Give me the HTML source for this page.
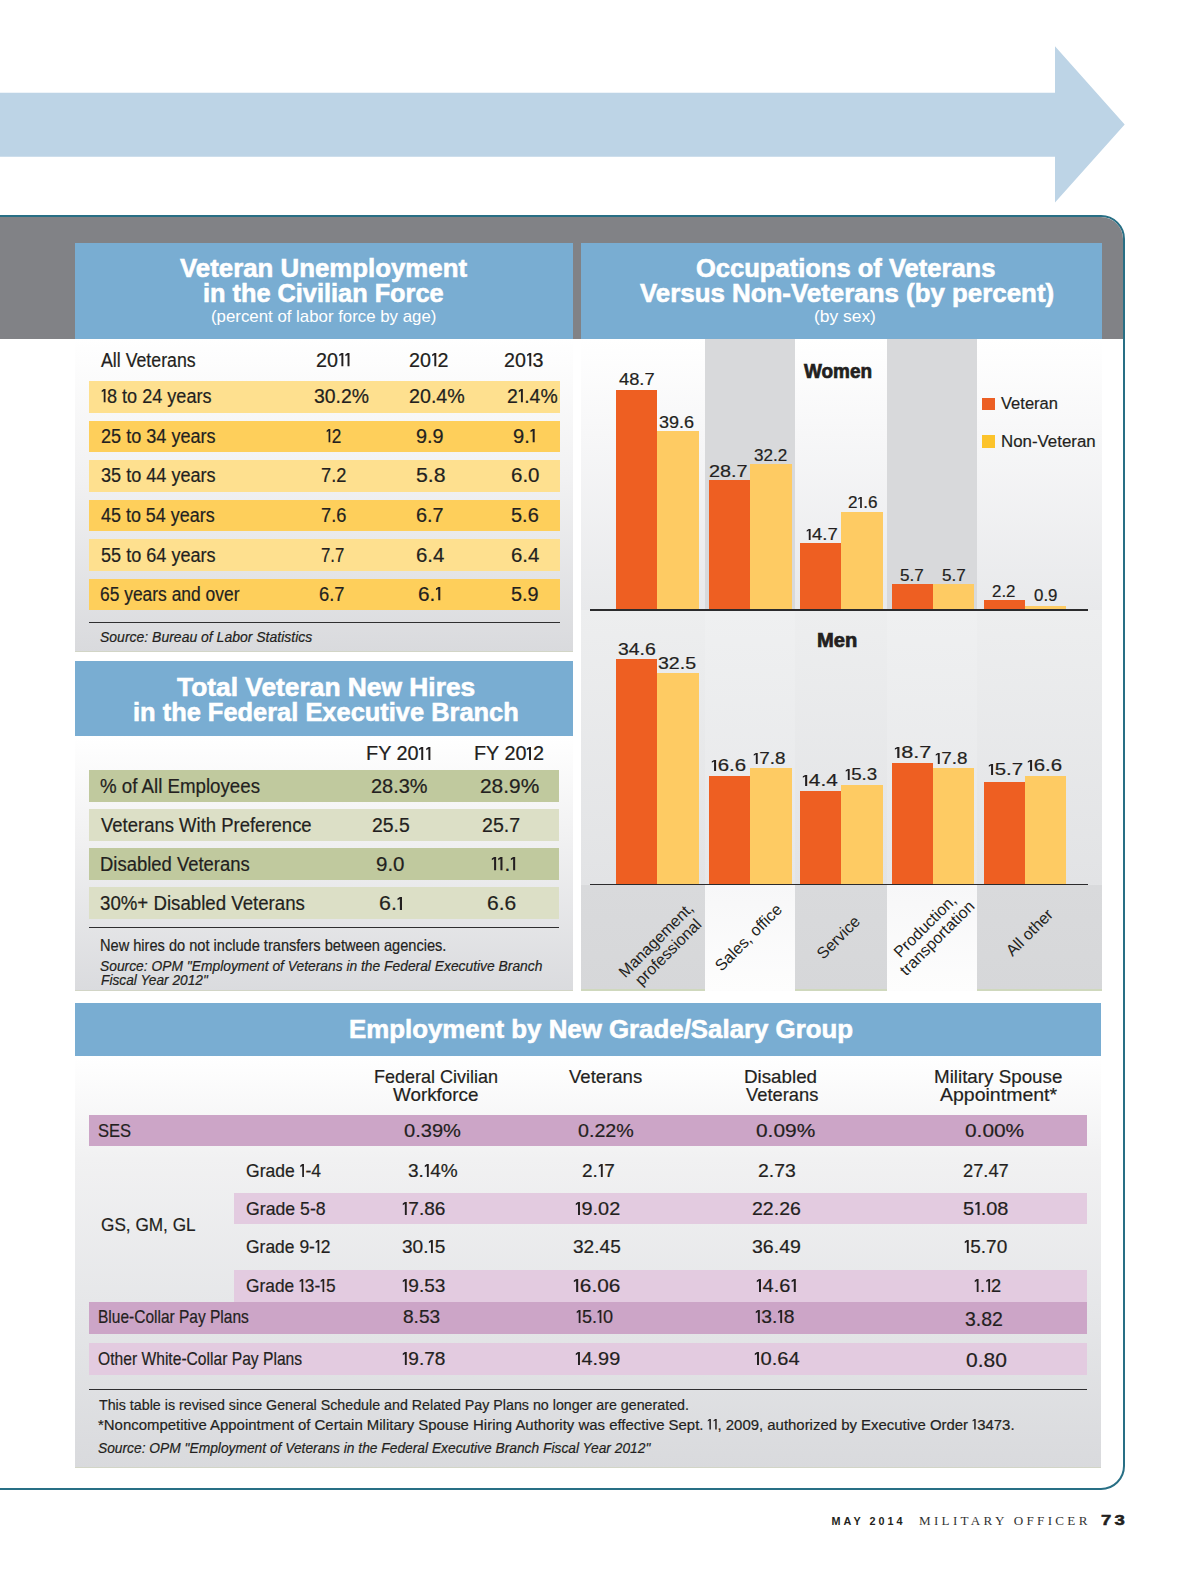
<!DOCTYPE html>
<html><head><meta charset="utf-8"><style>
html,body{margin:0;padding:0;background:#fff;overflow:hidden;}
body{width:1200px;height:1575px;position:relative;overflow:hidden;font-family:"Liberation Sans",sans-serif;}
.abs{position:absolute;}
.r{position:absolute;}
.t{position:absolute;white-space:nowrap;line-height:1;transform-origin:0 0;}
.one{display:inline-block;width:0.33em;height:0.688em;vertical-align:baseline;fill:currentColor;}
.rot{position:absolute;width:200px;height:40px;line-height:17px;font-size:16px;text-align:center;color:#231f20;
 transform:rotate(-45deg);transform-origin:50% 50%;display:flex;flex-direction:column;justify-content:center;}
</style></head><body>
<svg class="abs" style="left:0;top:0" width="1200" height="215" viewBox="0 0 1200 215"><polygon points="0,92.8 1055,92.8 1055,46.2 1124.7,124.4 1055,202.6 1055,156.7 0,156.7" fill="#bdd4e6"/></svg>
<div class="r" style="left:-40px;top:215px;width:1161px;height:1270.5px;border:2px solid #286f85;border-radius:0 24px 24px 0;overflow:hidden;background:#fff"><div class="r" style="left:0;top:0;width:1200px;height:121.7px;background:#818286"></div></div>
<div class="r" style="left:75.00px;top:243.00px;width:498.00px;height:95.70px;background:#79add2;"></div>
<div class="r" style="left:75.00px;top:338.70px;width:498.00px;height:313.30px;background:linear-gradient(#ffffff, #f1f1f2 45%, #d9dadd);"></div>
<div class="r" style="left:581.00px;top:243.00px;width:521.00px;height:95.70px;background:#79add2;"></div>
<div class="r" style="left:581.00px;top:338.70px;width:521.00px;height:652.60px;background:linear-gradient(#ffffff, #eeeff0 40%, #e6e7e9 70%, #dfe0e2);"></div>
<div class="r" style="left:75.00px;top:661.00px;width:498.00px;height:75.00px;background:#79add2;"></div>
<div class="r" style="left:75.00px;top:736.00px;width:498.00px;height:255.30px;background:linear-gradient(#ffffff, #f1f1f2 40%, #dadbde);"></div>
<div class="r" style="left:75.00px;top:1002.50px;width:1026.00px;height:53.30px;background:#79add2;"></div>
<div class="r" style="left:75.00px;top:1055.80px;width:1026.00px;height:411.50px;background:linear-gradient(#ffffff, #f1f1f2 25%, #e6e7e9 60%, #d9dadd);"></div>
<div class="r" style="left:75.00px;top:651.20px;width:498.00px;height:1.10px;background:#d2d5c6;"></div>
<div class="r" style="left:75.00px;top:990.20px;width:498.00px;height:1.10px;background:#d2d5c6;"></div>
<div class="r" style="left:75.00px;top:1466.60px;width:1026.00px;height:1.10px;background:#d2d5c6;"></div>
<div class="r" style="left:88.50px;top:381.30px;width:471.00px;height:31.70px;background:#fee08f;"></div>
<div class="r" style="left:88.50px;top:420.80px;width:471.00px;height:31.70px;background:#fecf5b;"></div>
<div class="r" style="left:88.50px;top:460.30px;width:471.00px;height:31.70px;background:#fee08f;"></div>
<div class="r" style="left:88.50px;top:499.80px;width:471.00px;height:31.70px;background:#fecf5b;"></div>
<div class="r" style="left:88.50px;top:539.30px;width:471.00px;height:31.70px;background:#fee08f;"></div>
<div class="r" style="left:88.50px;top:578.80px;width:471.00px;height:31.70px;background:#fecf5b;"></div>
<div class="r" style="left:88.50px;top:621.70px;width:471.00px;height:1.80px;background:#2e2e30;"></div>
<div class="r" style="left:88.70px;top:769.90px;width:470.50px;height:32.10px;background:#c0c99e;"></div>
<div class="r" style="left:88.70px;top:809.10px;width:470.50px;height:32.10px;background:#dcdfc6;"></div>
<div class="r" style="left:88.70px;top:848.00px;width:470.50px;height:32.10px;background:#c0c99e;"></div>
<div class="r" style="left:88.70px;top:887.40px;width:470.50px;height:32.10px;background:#dcdfc6;"></div>
<div class="r" style="left:88.70px;top:926.50px;width:470.50px;height:1.80px;background:#2e2e30;"></div>
<div class="r" style="left:89.00px;top:1114.60px;width:998.00px;height:31.90px;background:#cca5c7;"></div>
<div class="r" style="left:234.10px;top:1192.60px;width:852.90px;height:31.80px;background:#e3cbe0;"></div>
<div class="r" style="left:234.10px;top:1270.00px;width:852.90px;height:31.90px;background:#e3cbe0;"></div>
<div class="r" style="left:89.00px;top:1301.90px;width:998.00px;height:31.70px;background:#cca5c7;"></div>
<div class="r" style="left:89.00px;top:1343.20px;width:998.00px;height:31.80px;background:#e3cbe0;"></div>
<div class="r" style="left:89.00px;top:1388.70px;width:998.00px;height:1.80px;background:#2e2e30;"></div>
<div class="r" style="left:705.20px;top:338.70px;width:90.10px;height:271.30px;background:#d8d9db;"></div>
<div class="r" style="left:887.30px;top:338.70px;width:89.60px;height:271.30px;background:#d8d9db;"></div>
<div class="r" style="left:581.00px;top:338.70px;width:124.20px;height:271.30px;background:linear-gradient(#ffffff, #f7f7f8 35%, #e8e9eb);"></div>
<div class="r" style="left:795.30px;top:338.70px;width:92.00px;height:271.30px;background:linear-gradient(#ffffff, #f7f7f8 35%, #e8e9eb);"></div>
<div class="r" style="left:976.90px;top:338.70px;width:125.10px;height:271.30px;background:linear-gradient(#ffffff, #f7f7f8 35%, #e8e9eb);"></div>
<div class="r" style="left:581.00px;top:610.00px;width:521.00px;height:274.00px;background:linear-gradient(#edeeef, #e2e3e5);"></div>
<div class="r" style="left:705.20px;top:610.00px;width:90.10px;height:274.00px;background:linear-gradient(#eff0f1, #e6e7e9);"></div>
<div class="r" style="left:887.30px;top:610.00px;width:89.60px;height:274.00px;background:linear-gradient(#eff0f1, #e6e7e9);"></div>
<div class="r" style="left:581.00px;top:885.00px;width:124.20px;height:106.30px;background:linear-gradient(#d9dadc, #d6d7d9);"></div>
<div class="r" style="left:581.00px;top:989.30px;width:124.20px;height:2.00px;background:#cfd8bd;"></div>
<div class="r" style="left:795.30px;top:885.00px;width:92.00px;height:106.30px;background:linear-gradient(#d9dadc, #d6d7d9);"></div>
<div class="r" style="left:795.30px;top:989.30px;width:92.00px;height:2.00px;background:#cfd8bd;"></div>
<div class="r" style="left:976.90px;top:885.00px;width:125.10px;height:106.30px;background:linear-gradient(#d9dadc, #d6d7d9);"></div>
<div class="r" style="left:976.90px;top:989.30px;width:125.10px;height:2.00px;background:#cfd8bd;"></div>
<div class="r" style="left:705.20px;top:885.00px;width:90.10px;height:106.30px;background:linear-gradient(#f7f7f8, #fdfdfd);"></div>
<div class="r" style="left:887.30px;top:885.00px;width:89.60px;height:106.30px;background:linear-gradient(#f7f7f8, #fdfdfd);"></div>
<div class="r" style="left:616.20px;top:389.68px;width:41.00px;height:220.12px;background:#ee5f22;"></div>
<div class="r" style="left:657.20px;top:430.81px;width:41.50px;height:178.99px;background:#fecb63;"></div>
<div class="r" style="left:616.20px;top:659.05px;width:41.00px;height:225.25px;background:#ee5f22;"></div>
<div class="r" style="left:657.20px;top:672.72px;width:41.50px;height:211.58px;background:#fecb63;"></div>
<div class="r" style="left:709.40px;top:480.08px;width:41.00px;height:129.72px;background:#ee5f22;"></div>
<div class="r" style="left:750.40px;top:464.26px;width:41.50px;height:145.54px;background:#fecb63;"></div>
<div class="r" style="left:709.40px;top:776.23px;width:41.00px;height:108.07px;background:#ee5f22;"></div>
<div class="r" style="left:750.40px;top:768.42px;width:41.50px;height:115.88px;background:#fecb63;"></div>
<div class="r" style="left:800.20px;top:543.36px;width:41.00px;height:66.44px;background:#ee5f22;"></div>
<div class="r" style="left:841.20px;top:512.17px;width:41.50px;height:97.63px;background:#fecb63;"></div>
<div class="r" style="left:800.20px;top:790.56px;width:41.00px;height:93.74px;background:#ee5f22;"></div>
<div class="r" style="left:841.20px;top:784.70px;width:41.50px;height:99.60px;background:#fecb63;"></div>
<div class="r" style="left:891.80px;top:584.04px;width:41.00px;height:25.76px;background:#ee5f22;"></div>
<div class="r" style="left:932.80px;top:584.04px;width:41.50px;height:25.76px;background:#fecb63;"></div>
<div class="r" style="left:891.80px;top:762.56px;width:41.00px;height:121.74px;background:#ee5f22;"></div>
<div class="r" style="left:932.80px;top:768.42px;width:41.50px;height:115.88px;background:#fecb63;"></div>
<div class="r" style="left:983.70px;top:599.86px;width:41.00px;height:9.94px;background:#ee5f22;"></div>
<div class="r" style="left:1024.70px;top:605.73px;width:41.50px;height:4.07px;background:#fecb63;"></div>
<div class="r" style="left:983.70px;top:782.09px;width:41.00px;height:102.21px;background:#ee5f22;"></div>
<div class="r" style="left:1024.70px;top:776.23px;width:41.50px;height:108.07px;background:#fecb63;"></div>
<div class="r" style="left:589.70px;top:609.00px;width:498.30px;height:1.60px;background:#2b2b2d;"></div>
<div class="r" style="left:589.70px;top:883.60px;width:498.30px;height:1.60px;background:#2b2b2d;"></div>
<div class="r" style="left:982.00px;top:398.00px;width:12.50px;height:12.00px;background:#ec5f24;"></div>
<div class="r" style="left:982.00px;top:435.00px;width:12.50px;height:12.50px;background:#fcc32b;"></div>
<div class="rot" style="left:562.0px;top:926.0px;">Management,<br>professional</div>
<div class="rot" style="left:648.0px;top:917.3px;">Sales, office</div>
<div class="rot" style="left:738.0px;top:917.0px;">Service</div>
<div class="rot" style="left:830.8px;top:912.0px;">Production,<br>transportation</div>
<div class="rot" style="left:928.5px;top:912.0px;">All other</div>
<span class="t" id="t0" style="left:179.90px;top:255.09px;font-size:26.00px;color:#ffffff;font-weight:700;transform:scaleX(0.9934);-webkit-text-stroke:0.60px #ffffff;">Veteran Unemployment</span>
<span class="t" id="t1" style="left:202.97px;top:279.69px;font-size:26.00px;color:#ffffff;font-weight:700;transform:scaleX(0.9738);-webkit-text-stroke:0.60px #ffffff;">in the Civilian Force</span>
<span class="t" id="t2" style="left:210.76px;top:308.21px;font-size:17.00px;color:#ffffff;transform:scaleX(0.9897);">(percent of labor force by age)</span>
<span class="t" id="t3" style="left:696.19px;top:255.09px;font-size:26.00px;color:#ffffff;font-weight:700;transform:scaleX(0.9820);-webkit-text-stroke:0.60px #ffffff;">Occupations of Veterans</span>
<span class="t" id="t4" style="left:640.00px;top:279.69px;font-size:26.00px;color:#ffffff;font-weight:700;transform:scaleX(0.9952);-webkit-text-stroke:0.60px #ffffff;">Versus Non-Veterans (by percent)</span>
<span class="t" id="t5" style="left:814.15px;top:308.21px;font-size:17.00px;color:#ffffff;transform:scaleX(1.0239);">(by sex)</span>
<span class="t" id="t6" style="left:100.75px;top:350.57px;font-size:19.40px;color:#231f20;transform:scaleX(0.9151);-webkit-text-stroke:0.20px #231f20;">All Veterans</span>
<span class="t" id="t7" style="left:315.70px;top:350.57px;font-size:19.40px;color:#231f20;transform:scaleX(1.0198);-webkit-text-stroke:0.20px #231f20;">20<svg class="one" viewBox="0 0 33 68.8"><path d="M15,0H25V68.8H15V10L4,17V8Z"/></svg><svg class="one" viewBox="0 0 33 68.8"><path d="M15,0H25V68.8H15V10L4,17V8Z"/></svg></span>
<span class="t" id="t8" style="left:409.41px;top:350.57px;font-size:19.40px;color:#231f20;transform:scaleX(1.0167);-webkit-text-stroke:0.20px #231f20;">20<svg class="one" viewBox="0 0 33 68.8"><path d="M15,0H25V68.8H15V10L4,17V8Z"/></svg>2</span>
<span class="t" id="t9" style="left:504.42px;top:350.57px;font-size:19.40px;color:#231f20;transform:scaleX(1.0151);-webkit-text-stroke:0.20px #231f20;">20<svg class="one" viewBox="0 0 33 68.8"><path d="M15,0H25V68.8H15V10L4,17V8Z"/></svg>3</span>
<span class="t" id="t10" style="left:100.74px;top:386.57px;font-size:19.40px;color:#231f20;transform:scaleX(0.9331);-webkit-text-stroke:0.20px #231f20;"><svg class="one" viewBox="0 0 33 68.8"><path d="M15,0H25V68.8H15V10L4,17V8Z"/></svg>8 to 24 years</span>
<span class="t" id="t11" style="left:313.96px;top:386.57px;font-size:19.40px;color:#231f20;transform:scaleX(1.0014);-webkit-text-stroke:0.20px #231f20;">30.2%</span>
<span class="t" id="t12" style="left:408.97px;top:386.57px;font-size:19.40px;color:#231f20;transform:scaleX(1.0143);-webkit-text-stroke:0.20px #231f20;">20.4%</span>
<span class="t" id="t13" style="left:506.96px;top:386.57px;font-size:19.40px;color:#231f20;transform:scaleX(1.0017);-webkit-text-stroke:0.20px #231f20;">2<svg class="one" viewBox="0 0 33 68.8"><path d="M15,0H25V68.8H15V10L4,17V8Z"/></svg>.4%</span>
<span class="t" id="t14" style="left:100.74px;top:426.57px;font-size:19.40px;color:#231f20;transform:scaleX(0.9331);-webkit-text-stroke:0.20px #231f20;">25 to 34 years</span>
<span class="t" id="t15" style="left:325.92px;top:426.57px;font-size:19.40px;color:#231f20;transform:scaleX(0.8869);-webkit-text-stroke:0.20px #231f20;"><svg class="one" viewBox="0 0 33 68.8"><path d="M15,0H25V68.8H15V10L4,17V8Z"/></svg>2</span>
<span class="t" id="t16" style="left:416.38px;top:426.57px;font-size:19.40px;color:#231f20;transform:scaleX(1.0235);-webkit-text-stroke:0.20px #231f20;">9.9</span>
<span class="t" id="t17" style="left:513.26px;top:426.57px;font-size:19.40px;color:#231f20;transform:scaleX(1.0405);-webkit-text-stroke:0.20px #231f20;">9.<svg class="one" viewBox="0 0 33 68.8"><path d="M15,0H25V68.8H15V10L4,17V8Z"/></svg></span>
<span class="t" id="t18" style="left:100.74px;top:466.07px;font-size:19.40px;color:#231f20;transform:scaleX(0.9331);-webkit-text-stroke:0.20px #231f20;">35 to 44 years</span>
<span class="t" id="t19" style="left:320.70px;top:466.07px;font-size:19.40px;color:#231f20;transform:scaleX(0.9397);-webkit-text-stroke:0.20px #231f20;">7.2</span>
<span class="t" id="t20" style="left:415.70px;top:466.07px;font-size:19.40px;color:#231f20;transform:scaleX(1.0972);-webkit-text-stroke:0.20px #231f20;">5.8</span>
<span class="t" id="t21" style="left:510.72px;top:466.07px;font-size:19.40px;color:#231f20;transform:scaleX(1.0580);-webkit-text-stroke:0.20px #231f20;">6.0</span>
<span class="t" id="t22" style="left:100.75px;top:505.57px;font-size:19.40px;color:#231f20;transform:scaleX(0.9248);-webkit-text-stroke:0.20px #231f20;">45 to 54 years</span>
<span class="t" id="t23" style="left:320.70px;top:505.57px;font-size:19.40px;color:#231f20;transform:scaleX(0.9397);-webkit-text-stroke:0.20px #231f20;">7.6</span>
<span class="t" id="t24" style="left:415.92px;top:505.57px;font-size:19.40px;color:#231f20;transform:scaleX(1.0235);-webkit-text-stroke:0.20px #231f20;">6.7</span>
<span class="t" id="t25" style="left:510.94px;top:505.57px;font-size:19.40px;color:#231f20;transform:scaleX(1.0306);-webkit-text-stroke:0.20px #231f20;">5.6</span>
<span class="t" id="t26" style="left:100.74px;top:545.57px;font-size:19.40px;color:#231f20;transform:scaleX(0.9331);-webkit-text-stroke:0.20px #231f20;">55 to 64 years</span>
<span class="t" id="t27" style="left:320.92px;top:545.57px;font-size:19.40px;color:#231f20;transform:scaleX(0.8661);-webkit-text-stroke:0.20px #231f20;">7.7</span>
<span class="t" id="t28" style="left:415.70px;top:545.57px;font-size:19.40px;color:#231f20;transform:scaleX(1.0503);-webkit-text-stroke:0.20px #231f20;">6.4</span>
<span class="t" id="t29" style="left:510.70px;top:545.57px;font-size:19.40px;color:#231f20;transform:scaleX(1.0503);-webkit-text-stroke:0.20px #231f20;">6.4</span>
<span class="t" id="t30" style="left:99.75px;top:584.82px;font-size:19.40px;color:#231f20;transform:scaleX(0.8984);-webkit-text-stroke:0.20px #231f20;">65 years and over</span>
<span class="t" id="t31" style="left:318.96px;top:584.82px;font-size:19.40px;color:#231f20;transform:scaleX(0.9473);-webkit-text-stroke:0.20px #231f20;">6.7</span>
<span class="t" id="t32" style="left:418.30px;top:584.82px;font-size:19.40px;color:#231f20;transform:scaleX(1.0702);-webkit-text-stroke:0.20px #231f20;">6.<svg class="one" viewBox="0 0 33 68.8"><path d="M15,0H25V68.8H15V10L4,17V8Z"/></svg></span>
<span class="t" id="t33" style="left:510.92px;top:584.82px;font-size:19.40px;color:#231f20;transform:scaleX(1.0235);-webkit-text-stroke:0.20px #231f20;">5.9</span>
<span class="t" id="t34" style="left:99.90px;top:629.05px;font-size:15.30px;color:#231f20;font-style:italic;transform:scaleX(0.9143);-webkit-text-stroke:0.20px #231f20;">Source: Bureau of Labor Statistics</span>
<span class="t" id="t35" style="left:177.00px;top:673.99px;font-size:26.00px;color:#ffffff;font-weight:700;transform:scaleX(1.0133);-webkit-text-stroke:0.60px #ffffff;">Total Veteran New Hires</span>
<span class="t" id="t36" style="left:132.58px;top:698.99px;font-size:26.00px;color:#ffffff;font-weight:700;transform:scaleX(0.9780);-webkit-text-stroke:0.60px #ffffff;">in the Federal Executive Branch</span>
<span class="t" id="t37" style="left:365.79px;top:744.17px;font-size:19.40px;color:#231f20;transform:scaleX(1.0247);-webkit-text-stroke:0.20px #231f20;">FY 20<svg class="one" viewBox="0 0 33 68.8"><path d="M15,0H25V68.8H15V10L4,17V8Z"/></svg><svg class="one" viewBox="0 0 33 68.8"><path d="M15,0H25V68.8H15V10L4,17V8Z"/></svg></span>
<span class="t" id="t38" style="left:473.51px;top:744.17px;font-size:19.40px;color:#231f20;transform:scaleX(1.0211);-webkit-text-stroke:0.20px #231f20;">FY 20<svg class="one" viewBox="0 0 33 68.8"><path d="M15,0H25V68.8H15V10L4,17V8Z"/></svg>2</span>
<span class="t" id="t39" style="left:100.20px;top:777.37px;font-size:19.40px;color:#231f20;transform:scaleX(0.9639);-webkit-text-stroke:0.20px #231f20;">% of All Employees</span>
<span class="t" id="t40" style="left:370.88px;top:777.37px;font-size:19.40px;color:#231f20;transform:scaleX(1.0297);-webkit-text-stroke:0.20px #231f20;">28.3%</span>
<span class="t" id="t41" style="left:479.97px;top:777.37px;font-size:19.40px;color:#231f20;transform:scaleX(1.0772);-webkit-text-stroke:0.20px #231f20;">28.9%</span>
<span class="t" id="t42" style="left:101.20px;top:815.97px;font-size:19.40px;color:#231f20;transform:scaleX(0.9534);-webkit-text-stroke:0.20px #231f20;">Veterans With Preference</span>
<span class="t" id="t43" style="left:372.03px;top:815.97px;font-size:19.40px;color:#231f20;transform:scaleX(1.0006);-webkit-text-stroke:0.20px #231f20;">25.5</span>
<span class="t" id="t44" style="left:481.95px;top:815.97px;font-size:19.40px;color:#231f20;transform:scaleX(1.0089);-webkit-text-stroke:0.20px #231f20;">25.7</span>
<span class="t" id="t45" style="left:100.19px;top:854.77px;font-size:19.40px;color:#231f20;transform:scaleX(0.9510);-webkit-text-stroke:0.20px #231f20;">Disabled Veterans</span>
<span class="t" id="t46" style="left:375.96px;top:854.77px;font-size:19.40px;color:#231f20;transform:scaleX(1.0580);-webkit-text-stroke:0.20px #231f20;">9.0</span>
<span class="t" id="t47" style="left:490.85px;top:854.77px;font-size:19.40px;color:#231f20;transform:scaleX(1.0580);-webkit-text-stroke:0.20px #231f20;"><svg class="one" viewBox="0 0 33 68.8"><path d="M15,0H25V68.8H15V10L4,17V8Z"/></svg><svg class="one" viewBox="0 0 33 68.8"><path d="M15,0H25V68.8H15V10L4,17V8Z"/></svg>.<svg class="one" viewBox="0 0 33 68.8"><path d="M15,0H25V68.8H15V10L4,17V8Z"/></svg></span>
<span class="t" id="t48" style="left:100.19px;top:893.87px;font-size:19.40px;color:#231f20;transform:scaleX(0.9625);-webkit-text-stroke:0.20px #231f20;">30%+ Disabled Veterans</span>
<span class="t" id="t49" style="left:378.86px;top:893.87px;font-size:19.40px;color:#231f20;transform:scaleX(1.1033);-webkit-text-stroke:0.20px #231f20;">6.<svg class="one" viewBox="0 0 33 68.8"><path d="M15,0H25V68.8H15V10L4,17V8Z"/></svg></span>
<span class="t" id="t50" style="left:487.15px;top:893.87px;font-size:19.40px;color:#231f20;transform:scaleX(1.0853);-webkit-text-stroke:0.20px #231f20;">6.6</span>
<span class="t" id="t51" style="left:99.79px;top:937.33px;font-size:16.50px;color:#231f20;transform:scaleX(0.8845);-webkit-text-stroke:0.20px #231f20;">New hires do not include transfers between agencies.</span>
<span class="t" id="t52" style="left:99.79px;top:957.95px;font-size:15.30px;color:#231f20;font-style:italic;transform:scaleX(0.9037);-webkit-text-stroke:0.20px #231f20;">Source: OPM "Employment of Veterans in the Federal Executive Branch</span>
<span class="t" id="t53" style="left:100.80px;top:971.65px;font-size:15.30px;color:#231f20;font-style:italic;transform:scaleX(0.8966);-webkit-text-stroke:0.20px #231f20;">Fiscal Year 2012"</span>
<span class="t" id="t54" style="left:348.74px;top:1015.89px;font-size:26.00px;color:#ffffff;font-weight:700;transform:scaleX(0.9941);-webkit-text-stroke:0.60px #ffffff;">Employment by New Grade/Salary Group</span>
<span class="t" id="t55" style="left:373.98px;top:1067.21px;font-size:19.00px;color:#231f20;transform:scaleX(0.9477);-webkit-text-stroke:0.20px #231f20;">Federal Civilian</span>
<span class="t" id="t56" style="left:392.90px;top:1084.91px;font-size:19.00px;color:#231f20;transform:scaleX(0.9908);-webkit-text-stroke:0.20px #231f20;">Workforce</span>
<span class="t" id="t57" style="left:568.90px;top:1067.21px;font-size:19.00px;color:#231f20;transform:scaleX(0.9761);-webkit-text-stroke:0.20px #231f20;">Veterans</span>
<span class="t" id="t58" style="left:743.94px;top:1067.21px;font-size:19.00px;color:#231f20;transform:scaleX(0.9879);-webkit-text-stroke:0.20px #231f20;">Disabled</span>
<span class="t" id="t59" style="left:746.40px;top:1084.91px;font-size:19.00px;color:#231f20;transform:scaleX(0.9643);-webkit-text-stroke:0.20px #231f20;">Veterans</span>
<span class="t" id="t60" style="left:934.05px;top:1067.21px;font-size:19.00px;color:#231f20;transform:scaleX(0.9882);-webkit-text-stroke:0.20px #231f20;">Military Spouse</span>
<span class="t" id="t61" style="left:940.00px;top:1084.91px;font-size:19.00px;color:#231f20;transform:scaleX(1.0263);-webkit-text-stroke:0.20px #231f20;">Appointment*</span>
<span class="t" id="t62" style="left:97.83px;top:1121.21px;font-size:19.00px;color:#231f20;transform:scaleX(0.8711);-webkit-text-stroke:0.20px #231f20;">SES</span>
<span class="t" id="t63" style="left:100.88px;top:1214.61px;font-size:19.00px;color:#231f20;transform:scaleX(0.9052);-webkit-text-stroke:0.20px #231f20;">GS, GM, GL</span>
<span class="t" id="t64" style="left:246.07px;top:1160.61px;font-size:19.00px;color:#231f20;transform:scaleX(0.9238);-webkit-text-stroke:0.20px #231f20;">Grade <svg class="one" viewBox="0 0 33 68.8"><path d="M15,0H25V68.8H15V10L4,17V8Z"/></svg>-4</span>
<span class="t" id="t65" style="left:246.07px;top:1198.91px;font-size:19.00px;color:#231f20;transform:scaleX(0.9308);-webkit-text-stroke:0.20px #231f20;">Grade 5-8</span>
<span class="t" id="t66" style="left:246.06px;top:1237.21px;font-size:19.00px;color:#231f20;transform:scaleX(0.9192);-webkit-text-stroke:0.20px #231f20;">Grade 9-<svg class="one" viewBox="0 0 33 68.8"><path d="M15,0H25V68.8H15V10L4,17V8Z"/></svg>2</span>
<span class="t" id="t67" style="left:246.07px;top:1276.21px;font-size:19.00px;color:#231f20;transform:scaleX(0.9126);-webkit-text-stroke:0.20px #231f20;">Grade <svg class="one" viewBox="0 0 33 68.8"><path d="M15,0H25V68.8H15V10L4,17V8Z"/></svg>3-<svg class="one" viewBox="0 0 33 68.8"><path d="M15,0H25V68.8H15V10L4,17V8Z"/></svg>5</span>
<span class="t" id="t68" style="left:97.89px;top:1307.21px;font-size:19.00px;color:#231f20;transform:scaleX(0.8158);-webkit-text-stroke:0.20px #231f20;">Blue-Collar Pay Plans</span>
<span class="t" id="t69" style="left:97.90px;top:1348.91px;font-size:19.00px;color:#231f20;transform:scaleX(0.8226);-webkit-text-stroke:0.20px #231f20;">Other White-Collar Pay Plans</span>
<span class="t" id="t70" style="left:965.41px;top:1309.94px;font-size:19.80px;color:#231f20;transform:scaleX(0.9830);-webkit-text-stroke:0.20px #231f20;">3.82</span>
<span class="t" id="t71" style="left:966.45px;top:1349.70px;font-size:20.20px;color:#231f20;transform:scaleX(1.0422);-webkit-text-stroke:0.20px #231f20;">0.80</span>
<span class="t" id="t72" style="left:403.96px;top:1121.21px;font-size:19.00px;color:#231f20;transform:scaleX(1.0570);-webkit-text-stroke:0.20px #231f20;">0.39%</span>
<span class="t" id="t73" style="left:577.97px;top:1121.21px;font-size:19.00px;color:#231f20;transform:scaleX(1.0359);-webkit-text-stroke:0.20px #231f20;">0.22%</span>
<span class="t" id="t74" style="left:756.17px;top:1121.21px;font-size:19.00px;color:#231f20;transform:scaleX(1.0997);-webkit-text-stroke:0.20px #231f20;">0.09%</span>
<span class="t" id="t75" style="left:965.46px;top:1121.21px;font-size:19.00px;color:#231f20;transform:scaleX(1.0972);-webkit-text-stroke:0.20px #231f20;">0.00%</span>
<span class="t" id="t76" style="left:407.87px;top:1160.61px;font-size:19.00px;color:#231f20;transform:scaleX(1.0017);-webkit-text-stroke:0.20px #231f20;">3.<svg class="one" viewBox="0 0 33 68.8"><path d="M15,0H25V68.8H15V10L4,17V8Z"/></svg>4%</span>
<span class="t" id="t77" style="left:581.99px;top:1160.61px;font-size:19.00px;color:#231f20;transform:scaleX(1.0003);-webkit-text-stroke:0.20px #231f20;">2.<svg class="one" viewBox="0 0 33 68.8"><path d="M15,0H25V68.8H15V10L4,17V8Z"/></svg>7</span>
<span class="t" id="t78" style="left:758.34px;top:1160.61px;font-size:19.00px;color:#231f20;transform:scaleX(1.0216);-webkit-text-stroke:0.20px #231f20;">2.73</span>
<span class="t" id="t79" style="left:963.33px;top:1160.61px;font-size:19.00px;color:#231f20;transform:scaleX(0.9627);-webkit-text-stroke:0.20px #231f20;">27.47</span>
<span class="t" id="t80" style="left:401.88px;top:1198.91px;font-size:19.00px;color:#231f20;transform:scaleX(1.0038);-webkit-text-stroke:0.20px #231f20;"><svg class="one" viewBox="0 0 33 68.8"><path d="M15,0H25V68.8H15V10L4,17V8Z"/></svg>7.86</span>
<span class="t" id="t81" style="left:574.96px;top:1198.91px;font-size:19.00px;color:#231f20;transform:scaleX(1.0454);-webkit-text-stroke:0.20px #231f20;"><svg class="one" viewBox="0 0 33 68.8"><path d="M15,0H25V68.8H15V10L4,17V8Z"/></svg>9.02</span>
<span class="t" id="t82" style="left:751.74px;top:1198.91px;font-size:19.00px;color:#231f20;transform:scaleX(1.0272);-webkit-text-stroke:0.20px #231f20;">22.26</span>
<span class="t" id="t83" style="left:963.36px;top:1198.91px;font-size:19.00px;color:#231f20;transform:scaleX(1.0502);-webkit-text-stroke:0.20px #231f20;">5<svg class="one" viewBox="0 0 33 68.8"><path d="M15,0H25V68.8H15V10L4,17V8Z"/></svg>.08</span>
<span class="t" id="t84" style="left:401.88px;top:1237.21px;font-size:19.00px;color:#231f20;transform:scaleX(1.0038);-webkit-text-stroke:0.20px #231f20;">30.<svg class="one" viewBox="0 0 33 68.8"><path d="M15,0H25V68.8H15V10L4,17V8Z"/></svg>5</span>
<span class="t" id="t85" style="left:572.85px;top:1237.21px;font-size:19.00px;color:#231f20;transform:scaleX(1.0043);-webkit-text-stroke:0.20px #231f20;">32.45</span>
<span class="t" id="t86" style="left:751.74px;top:1237.21px;font-size:19.00px;color:#231f20;transform:scaleX(1.0272);-webkit-text-stroke:0.20px #231f20;">36.49</span>
<span class="t" id="t87" style="left:964.46px;top:1237.21px;font-size:19.00px;color:#231f20;transform:scaleX(1.0006);-webkit-text-stroke:0.20px #231f20;"><svg class="one" viewBox="0 0 33 68.8"><path d="M15,0H25V68.8H15V10L4,17V8Z"/></svg>5.70</span>
<span class="t" id="t88" style="left:401.88px;top:1276.21px;font-size:19.00px;color:#231f20;transform:scaleX(1.0038);-webkit-text-stroke:0.20px #231f20;"><svg class="one" viewBox="0 0 33 68.8"><path d="M15,0H25V68.8H15V10L4,17V8Z"/></svg>9.53</span>
<span class="t" id="t89" style="left:572.88px;top:1276.21px;font-size:19.00px;color:#231f20;transform:scaleX(1.0967);-webkit-text-stroke:0.20px #231f20;"><svg class="one" viewBox="0 0 33 68.8"><path d="M15,0H25V68.8H15V10L4,17V8Z"/></svg>6.06</span>
<span class="t" id="t90" style="left:755.95px;top:1276.21px;font-size:19.00px;color:#231f20;transform:scaleX(1.0541);-webkit-text-stroke:0.20px #231f20;"><svg class="one" viewBox="0 0 33 68.8"><path d="M15,0H25V68.8H15V10L4,17V8Z"/></svg>4.6<svg class="one" viewBox="0 0 33 68.8"><path d="M15,0H25V68.8H15V10L4,17V8Z"/></svg></span>
<span class="t" id="t91" style="left:973.95px;top:1276.21px;font-size:19.00px;color:#231f20;transform:scaleX(0.9602);-webkit-text-stroke:0.20px #231f20;"><svg class="one" viewBox="0 0 33 68.8"><path d="M15,0H25V68.8H15V10L4,17V8Z"/></svg>.<svg class="one" viewBox="0 0 33 68.8"><path d="M15,0H25V68.8H15V10L4,17V8Z"/></svg>2</span>
<span class="t" id="t92" style="left:402.88px;top:1307.21px;font-size:19.00px;color:#231f20;transform:scaleX(1.0047);-webkit-text-stroke:0.20px #231f20;">8.53</span>
<span class="t" id="t93" style="left:575.88px;top:1307.21px;font-size:19.00px;color:#231f20;transform:scaleX(0.9495);-webkit-text-stroke:0.20px #231f20;"><svg class="one" viewBox="0 0 33 68.8"><path d="M15,0H25V68.8H15V10L4,17V8Z"/></svg>5.<svg class="one" viewBox="0 0 33 68.8"><path d="M15,0H25V68.8H15V10L4,17V8Z"/></svg>0</span>
<span class="t" id="t94" style="left:754.94px;top:1307.21px;font-size:19.00px;color:#231f20;transform:scaleX(1.0151);-webkit-text-stroke:0.20px #231f20;"><svg class="one" viewBox="0 0 33 68.8"><path d="M15,0H25V68.8H15V10L4,17V8Z"/></svg>3.<svg class="one" viewBox="0 0 33 68.8"><path d="M15,0H25V68.8H15V10L4,17V8Z"/></svg>8</span>
<span class="t" id="t95" style="left:401.88px;top:1348.91px;font-size:19.00px;color:#231f20;transform:scaleX(1.0038);-webkit-text-stroke:0.20px #231f20;"><svg class="one" viewBox="0 0 33 68.8"><path d="M15,0H25V68.8H15V10L4,17V8Z"/></svg>9.78</span>
<span class="t" id="t96" style="left:574.96px;top:1348.91px;font-size:19.00px;color:#231f20;transform:scaleX(1.0454);-webkit-text-stroke:0.20px #231f20;"><svg class="one" viewBox="0 0 33 68.8"><path d="M15,0H25V68.8H15V10L4,17V8Z"/></svg>4.99</span>
<span class="t" id="t97" style="left:753.96px;top:1348.91px;font-size:19.00px;color:#231f20;transform:scaleX(1.0569);-webkit-text-stroke:0.20px #231f20;"><svg class="one" viewBox="0 0 33 68.8"><path d="M15,0H25V68.8H15V10L4,17V8Z"/></svg>0.64</span>
<span class="t" id="t98" style="left:99.40px;top:1397.36px;font-size:15.40px;color:#231f20;transform:scaleX(0.9256);-webkit-text-stroke:0.20px #231f20;">This table is revised since General Schedule and Related Pay Plans no longer are generated.</span>
<span class="t" id="t99" style="left:98.40px;top:1416.96px;font-size:15.40px;color:#231f20;transform:scaleX(0.9700);-webkit-text-stroke:0.20px #231f20;">*Noncompetitive Appointment of Certain Military Spouse Hiring Authority was effective Sept. <svg class="one" viewBox="0 0 33 68.8"><path d="M15,0H25V68.8H15V10L4,17V8Z"/></svg><svg class="one" viewBox="0 0 33 68.8"><path d="M15,0H25V68.8H15V10L4,17V8Z"/></svg>, 2009, authorized by Executive Order <svg class="one" viewBox="0 0 33 68.8"><path d="M15,0H25V68.8H15V10L4,17V8Z"/></svg>3473.</span>
<span class="t" id="t100" style="left:98.40px;top:1439.66px;font-size:15.40px;color:#231f20;font-style:italic;transform:scaleX(0.8958);-webkit-text-stroke:0.20px #231f20;">Source: OPM "Employment of Veterans in the Federal Executive Branch Fiscal Year 2012"</span>
<span class="t" id="t101" style="left:619.39px;top:370.67px;font-size:16.10px;color:#231f20;transform:scaleX(1.1359);-webkit-text-stroke:0.20px #231f20;">48.7</span>
<span class="t" id="t102" style="left:659.35px;top:413.57px;font-size:16.10px;color:#231f20;transform:scaleX(1.1179);-webkit-text-stroke:0.20px #231f20;">39.6</span>
<span class="t" id="t103" style="left:708.88px;top:463.37px;font-size:16.10px;color:#231f20;transform:scaleX(1.2313);-webkit-text-stroke:0.20px #231f20;">28.7</span>
<span class="t" id="t104" style="left:754.33px;top:447.07px;font-size:16.10px;color:#231f20;transform:scaleX(1.0587);-webkit-text-stroke:0.20px #231f20;">32.2</span>
<span class="t" id="t105" style="left:806.39px;top:526.17px;font-size:16.10px;color:#231f20;transform:scaleX(1.1480);-webkit-text-stroke:0.20px #231f20;"><svg class="one" viewBox="0 0 33 68.8"><path d="M15,0H25V68.8H15V10L4,17V8Z"/></svg>4.7</span>
<span class="t" id="t106" style="left:847.71px;top:494.37px;font-size:16.10px;color:#231f20;transform:scaleX(1.0622);-webkit-text-stroke:0.20px #231f20;">2<svg class="one" viewBox="0 0 33 68.8"><path d="M15,0H25V68.8H15V10L4,17V8Z"/></svg>.6</span>
<span class="t" id="t107" style="left:900.42px;top:567.27px;font-size:16.10px;color:#231f20;transform:scaleX(1.0620);-webkit-text-stroke:0.20px #231f20;">5.7</span>
<span class="t" id="t108" style="left:941.56px;top:567.27px;font-size:16.10px;color:#231f20;transform:scaleX(1.0620);-webkit-text-stroke:0.20px #231f20;">5.7</span>
<span class="t" id="t109" style="left:991.95px;top:582.67px;font-size:16.10px;color:#231f20;transform:scaleX(1.0476);-webkit-text-stroke:0.20px #231f20;">2.2</span>
<span class="t" id="t110" style="left:1033.95px;top:586.67px;font-size:16.10px;color:#231f20;transform:scaleX(1.0476);-webkit-text-stroke:0.20px #231f20;">0.9</span>
<span class="t" id="t111" style="left:617.66px;top:640.67px;font-size:16.10px;color:#231f20;transform:scaleX(1.2045);-webkit-text-stroke:0.20px #231f20;">34.6</span>
<span class="t" id="t112" style="left:658.44px;top:654.87px;font-size:16.10px;color:#231f20;transform:scaleX(1.2145);-webkit-text-stroke:0.20px #231f20;">32.5</span>
<span class="t" id="t113" style="left:711.40px;top:757.37px;font-size:16.10px;color:#231f20;transform:scaleX(1.2660);-webkit-text-stroke:0.20px #231f20;"><svg class="one" viewBox="0 0 33 68.8"><path d="M15,0H25V68.8H15V10L4,17V8Z"/></svg>6.6</span>
<span class="t" id="t114" style="left:753.41px;top:749.77px;font-size:16.10px;color:#231f20;transform:scaleX(1.1721);-webkit-text-stroke:0.20px #231f20;"><svg class="one" viewBox="0 0 33 68.8"><path d="M15,0H25V68.8H15V10L4,17V8Z"/></svg>7.8</span>
<span class="t" id="t115" style="left:801.94px;top:771.87px;font-size:16.10px;color:#231f20;transform:scaleX(1.2902);-webkit-text-stroke:0.20px #231f20;"><svg class="one" viewBox="0 0 33 68.8"><path d="M15,0H25V68.8H15V10L4,17V8Z"/></svg>4.4</span>
<span class="t" id="t116" style="left:844.94px;top:766.37px;font-size:16.10px;color:#231f20;transform:scaleX(1.1607);-webkit-text-stroke:0.20px #231f20;"><svg class="one" viewBox="0 0 33 68.8"><path d="M15,0H25V68.8H15V10L4,17V8Z"/></svg>5.3</span>
<span class="t" id="t117" style="left:894.31px;top:744.07px;font-size:16.10px;color:#231f20;transform:scaleX(1.3486);-webkit-text-stroke:0.20px #231f20;"><svg class="one" viewBox="0 0 33 68.8"><path d="M15,0H25V68.8H15V10L4,17V8Z"/></svg>8.7</span>
<span class="t" id="t118" style="left:934.71px;top:749.77px;font-size:16.10px;color:#231f20;transform:scaleX(1.1721);-webkit-text-stroke:0.20px #231f20;"><svg class="one" viewBox="0 0 33 68.8"><path d="M15,0H25V68.8H15V10L4,17V8Z"/></svg>7.8</span>
<span class="t" id="t119" style="left:987.70px;top:760.87px;font-size:16.10px;color:#231f20;transform:scaleX(1.2660);-webkit-text-stroke:0.20px #231f20;"><svg class="one" viewBox="0 0 33 68.8"><path d="M15,0H25V68.8H15V10L4,17V8Z"/></svg>5.7</span>
<span class="t" id="t120" style="left:1026.85px;top:757.37px;font-size:16.10px;color:#231f20;transform:scaleX(1.2660);-webkit-text-stroke:0.20px #231f20;"><svg class="one" viewBox="0 0 33 68.8"><path d="M15,0H25V68.8H15V10L4,17V8Z"/></svg>6.6</span>
<span class="t" id="t121" style="left:803.70px;top:360.97px;font-size:20.00px;color:#231f20;font-weight:700;transform:scaleX(0.9475);-webkit-text-stroke:0.70px #231f20;">Women</span>
<span class="t" id="t122" style="left:816.74px;top:630.37px;font-size:20.00px;color:#231f20;font-weight:700;transform:scaleX(1.0068);-webkit-text-stroke:0.70px #231f20;">Men</span>
<span class="t" id="t123" style="left:1001.09px;top:395.27px;font-size:17.40px;color:#231f20;transform:scaleX(0.9503);-webkit-text-stroke:0.20px #231f20;">Veteran</span>
<span class="t" id="t124" style="left:1001.46px;top:432.77px;font-size:17.40px;color:#231f20;transform:scaleX(0.9691);-webkit-text-stroke:0.20px #231f20;">Non-Veteran</span>
<span class="t" id="t125" style="left:831.50px;top:1515.66px;font-size:10.80px;color:#231f20;font-weight:700;letter-spacing:3.043px;">MAY 2014</span>
<span class="t" id="t126" style="left:919.00px;top:1513.83px;font-size:13.10px;color:#333333;font-family:'Liberation Serif', serif;letter-spacing:3.300px;">MILITARY OFFICER</span>
<span class="t" id="t127" style="left:1101.38px;top:1512.30px;font-size:15.00px;color:#231f20;font-weight:700;letter-spacing:2.500px;transform:scaleX(1.2386);-webkit-text-stroke:0.50px #231f20;">73</span>
</body></html>
